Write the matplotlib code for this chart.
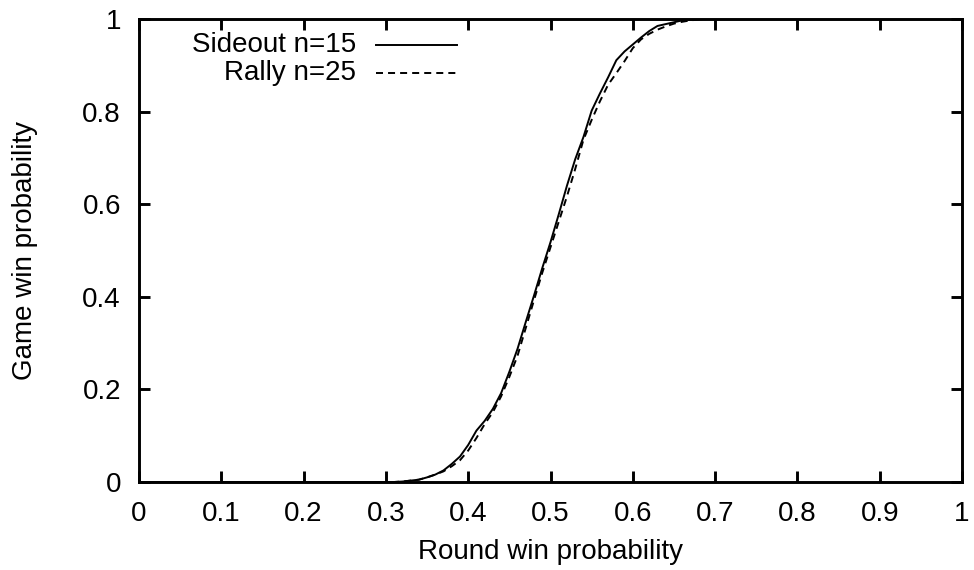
import matplotlib
matplotlib.use("Agg")
import matplotlib.pyplot as plt

plt.rcParams['font.family'] = ['Liberation Sans', 'DejaVu Sans']

# Round win probability (x)
p = [0.0, 0.30, 0.31, 0.32, 0.33, 0.34, 0.35, 0.36, 0.37, 0.38, 0.39,
     0.40, 0.41, 0.42, 0.43, 0.44, 0.45, 0.46, 0.47, 0.48, 0.49,
     0.50, 0.51, 0.52, 0.53, 0.54, 0.55, 0.56, 0.57, 0.58, 0.59,
     0.60, 0.61, 0.62, 0.63, 0.64, 0.65, 0.66, 0.67, 0.68, 0.69, 0.70, 1.0]

sideout = [0.0, 0.0, 0.000, 0.001, 0.003, 0.005, 0.010, 0.016, 0.025, 0.039, 0.055,
           0.080, 0.111, 0.132, 0.158, 0.192, 0.238, 0.288, 0.346, 0.403, 0.462,
           0.518, 0.578, 0.640, 0.697, 0.745, 0.802, 0.839, 0.874, 0.911, 0.930,
           0.945, 0.960, 0.974, 0.985, 0.989, 0.993, 0.997, 0.998, 0.999, 1.0, 1.0, 1.0]

rally = [0.0, 0.0, 0.000, 0.001, 0.003, 0.005, 0.010, 0.016, 0.023, 0.034, 0.047,
         0.068, 0.095, 0.125, 0.151, 0.185, 0.227, 0.273, 0.333, 0.393, 0.452,
         0.507, 0.562, 0.617, 0.676, 0.739, 0.782, 0.822, 0.858, 0.883, 0.909,
         0.937, 0.956, 0.968, 0.977, 0.984, 0.990, 0.994, 0.997, 0.999, 1.0, 1.0, 1.0]

xticks = [0, 0.1, 0.2, 0.3, 0.4, 0.5, 0.6, 0.7, 0.8, 0.9, 1]
xticklabels = ["0", "0.1", "0.2", "0.3", "0.4", "0.5", "0.6", "0.7", "0.8", "0.9", "1"]
yticks = [0, 0.2, 0.4, 0.6, 0.8, 1]
yticklabels = ["0", "0.2", "0.4", "0.6", "0.8", "1"]
series_labels = ["Sideout n=15", "Rally n=25"]

FS = 20
LW = 1.4
DASH = (3.6, 2.6)

fig = plt.figure(figsize=(9.74, 5.70), dpi=100)
ax = fig.add_axes([139/974, (570-482)/570, 823/974, 463/570])

ax.plot(p, sideout, color='black', lw=LW)
ax.plot(p, rally, color='black', lw=LW, dashes=DASH)

ax.set_xlim(0, 1)
ax.set_ylim(0, 1)
ax.set_xticks(xticks)
ax.set_xticklabels(xticklabels)
ax.set_yticks(yticks)
ax.set_yticklabels(yticklabels)
ax.tick_params(direction='in', length=8, width=2.1, top=True, right=True,
               labelsize=FS)
ax.tick_params(axis='x', pad=14)
ax.tick_params(axis='y', pad=13)
for s in ax.spines.values():
    s.set_linewidth(2.1)

ax.set_xlabel("Round win probability", fontsize=FS)
ax.set_ylabel("Game win probability", fontsize=FS)
ax.xaxis.set_label_coords(0.5, (482 - 552) / 463)
ax.xaxis.label.set_va('center')
ax.yaxis.set_label_coords((25 - 139) / 823, 0.5)
ax.yaxis.label.set_va('center')

# gnuplot-style key: right-aligned text with line sample to the right
key_y = [0.944, 0.883]
styles = [dict(), dict(dashes=DASH)]
for lab, ky, st in zip(series_labels, key_y, styles):
    ax.text(0.264, ky, lab, transform=ax.transAxes, ha='right', va='center', fontsize=FS)
    ax.plot([0.288, 0.386], [ky, ky], transform=ax.transAxes, color='black', lw=LW, **st)

fig.savefig("out.png", dpi=100)
